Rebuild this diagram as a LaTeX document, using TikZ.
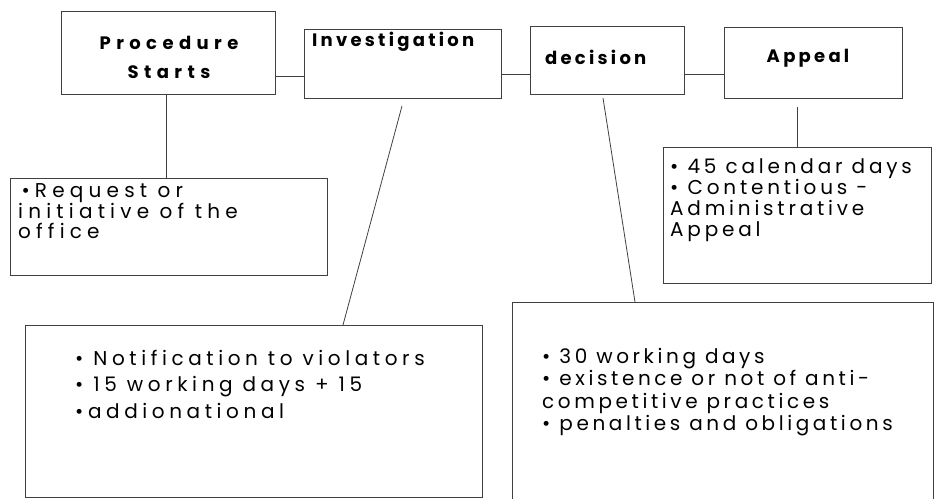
\documentclass[tikz,border=0pt]{standalone}
\usepackage{fontspec}
\setmainfont{Poppins}
\newfontfamily\appfont[LetterSpace=19]{Poppins}
\newfontfamily\invfont[LetterSpace=23]{Poppins}
\newfontfamily\decfont[LetterSpace=18]{Poppins}
\newfontfamily\reqfont[LetterSpace=26]{Poppins}
\newfontfamily\headfont[LetterSpace=18]{Poppins}
\newfontfamily\headfontw[LetterSpace=30]{Poppins}
\begin{document}
\begin{tikzpicture}[x=1pt,y=-1pt,
  box/.style={draw=black!75,line width=0.8pt,rectangle,inner sep=0pt,anchor=north west},
  link/.style={draw=black!75,line width=0.8pt},
  head/.style={font=\headfont\fontsize{18}{29}\selectfont\bfseries,inner sep=0pt,align=center},
  body/.style={inner sep=0pt,align=left,anchor=north west}]
\useasboundingbox (0,0) rectangle (934,498);
\clip (0,0) rectangle (934,498);
% top boxes
\node[box,minimum width=214pt,minimum height=83pt] (proc) at (61,11) {};
\node[box,minimum width=197pt,minimum height=69pt] (inv) at (304,29) {};
\node[box,minimum width=154pt,minimum height=68pt] (dec) at (530,26) {};
\node[box,minimum width=178pt,minimum height=71pt] (app) at (724,27) {};
\node[head,font=\headfontw\fontsize{18}{29}\selectfont\bfseries] (proct) at (169,57) {Procedure\\Starts};
\node[head,anchor=west] (invt) at (312,42) {Investigation};
\node[head,anchor=west] (dect) at (545,57) {decision};
\node[head] (appt) at (808,58) {Appeal};
% detail boxes
\node[box,minimum width=317pt,minimum height=97pt] (req) at (10,178) {};
\node[box,minimum width=268pt,minimum height=136pt] (appx) at (663,147) {};
\node[box,minimum width=457pt,minimum height=172pt] (invx) at (25,325) {};
\node[box,minimum width=421pt,minimum height=210pt] (decx) at (512,302) {};
\node[body,font=\reqfont\fontsize{20}{19.5}\selectfont] (reqt) at (18,183) {\,•Request or\\initiative of the\\office};
\node[body,font=\appfont\fontsize{20}{21}\selectfont] (appxt) at (670,158) {• 45 calendar days\\• Contentious -\\Administrative\\Appeal};
\node[body,font=\invfont\fontsize{20}{26.5}\selectfont] (invxt) at (75,350) {• Notification to violators\\• 15 working days + 15\\•addionational};
\node[body,font=\decfont\fontsize{20}{22.3}\selectfont] (decxt) at (542,348) {• 30 working days\\• existence or not of anti-\\competitive practices\\• penalties and obligations};
% connectors
\draw[link] (proc.east |- 0,76) -- (inv.west |- 0,76);
\draw[link] (inv.east |- 0,74) -- (dec.west |- 0,74);
\draw[link] (dec.east |- 0,74) -- (app.west |- 0,74);
\coordinate (a1) at (797,107);
\draw[link] (a1) -- (a1 |- appx.north);
\draw[link] (proc.south -| 166,0) -- (req.north -| 166,0);
\coordinate (i1) at (402,106);
\draw[link] (i1) -- (invx.north -| 343,0);
\coordinate (d1) at (603,98);
\draw[link] (d1) -- (decx.north -| 635,0);
\end{tikzpicture}
\end{document}
